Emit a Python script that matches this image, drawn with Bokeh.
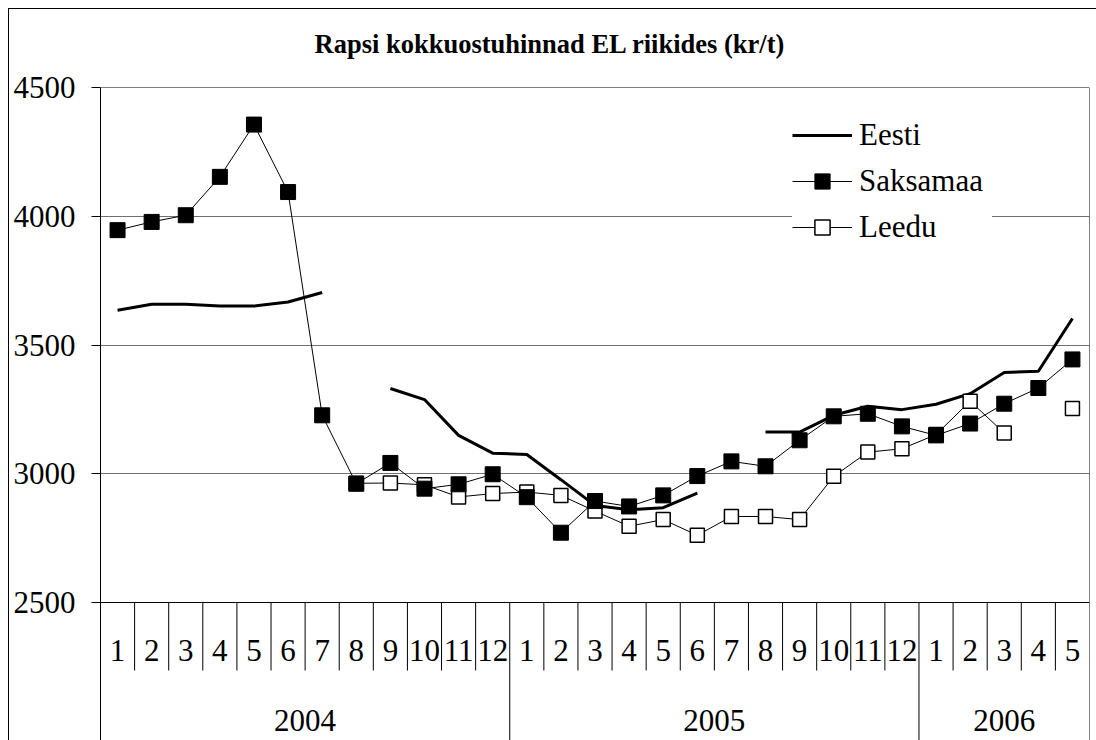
from bokeh.plotting import figure
from bokeh.models import (Range1d, FixedTicker, Span, Title, Legend, LegendItem)
from bokeh.core.properties import value
from bokeh.embed import file_html
from bokeh.resources import INLINE

nan = float("nan")

# ---- data ----
years = ["2004", "2005", "2006"]
year_months = [12, 12, 5]
months = [str(m) for m in range(1, 13)] + [str(m) for m in range(1, 13)] + [str(m) for m in range(1, 6)]

eesti = [3635, 3658, 3658, 3651, 3651, 3667, 3704, nan, 3331, 3288, 3149, 3080,
         3075, 2977, 2877, 2860, 2868, 2925, nan, 3162, 3162, 3227, 3262, 3249,
         3270, 3311, 3393, 3398, 3603]
saksamaa = [3946, 3978, 4004, 4153, 4356, 4094, 3227, 2961, 3042, 2942, 2959, 2998,
            2909, 2771, 2894, 2873, 2916, 2991, 3048, 3029, 3130, 3223, 3233, 3184,
            3149, 3195, 3272, 3333, 3444]
leedu = [nan, nan, nan, nan, nan, nan, nan, 2963, 2964, 2957, 2910, 2923,
         2929, 2916, 2855, 2796, 2822, 2761, 2834, 2834, 2822, 2990, 3084, 3097,
         3152, 3282, 3158, nan, 3253]

y_ticks = [2500, 3000, 3500, 4000, 4500]
grid_ticks = [3000, 3500, 4000]
title_text = "Rapsi kokkuostuhinnad EL riikides (kr/t)"

# ---- layout helpers (canvas pixel -> data) ----
W, H = 1096, 740
TOP, Y_BASE = 87, 602          # canvas y of 4500 and 2500
LEFT, RIGHT = 100, 1089        # canvas x of frame left/right
YMIN, YMAX = 2500, 4500
ppu = (Y_BASE - TOP) / (YMAX - YMIN)
y_lo = YMAX - (H - TOP) / ppu
n = len(months)


def yd(cy):
    return YMAX - (cy - TOP) / ppu


FONT = "Liberation Serif"
FS = "31px"

p = figure(width=W, height=H, output_backend="svg", toolbar_location=None,
           x_range=Range1d(0, n), y_range=Range1d(y_lo, YMAX),
           x_axis_location=None, title=None,
           min_border_left=LEFT, min_border_right=W - RIGHT,
           min_border_top=TOP, min_border_bottom=0)
p.outline_line_color = None
p.background_fill_color = "white"
p.border_fill_color = None
# outer chart border (its left and top edges are the only ones inside the picture)
p.styles = {
    "background": "linear-gradient(#000, #000) 8px 8px / 1px 100% no-repeat, "
                  "linear-gradient(#000, #000) 8px 8px / 100% 1px no-repeat, #fff"
}

# title
p.add_layout(Title(text=title_text, align="left", offset=214, standoff=54,
                   vertical_align="top", text_font=FONT, text_font_size="26.5px",
                   text_font_style="bold", text_color="black"), "above")

# y axis
ax = p.yaxis[0]
ax.ticker = FixedTicker(ticks=y_ticks)
ax.major_tick_in = 0
ax.major_tick_out = 9
ax.minor_tick_line_color = None
ax.axis_line_color = "black"
ax.major_tick_line_color = "black"
ax.major_label_text_font = FONT
ax.major_label_text_font_size = FS
ax.major_label_text_color = "black"
ax.major_label_standoff = 16

p.xgrid.visible = False
p.ygrid.ticker = FixedTicker(ticks=grid_ticks)
p.ygrid.grid_line_color = "#707070"
p.ygrid.grid_line_width = 1

# plot-area borders / category axis line
p.add_layout(Span(location=YMAX, dimension="width", line_color="black", line_width=1))
p.add_layout(Span(location=n, dimension="height", line_color="black", line_width=1))
p.add_layout(Span(location=YMIN, dimension="width", line_color="black", line_width=1))

# category separators
year_bounds = []
acc = 0
for c in year_months[:-1]:
    acc += c
    year_bounds.append(acc)
month_bounds = [i for i in range(1, n) if i not in year_bounds]
p.segment(x0=month_bounds, y0=[YMIN] * len(month_bounds), x1=month_bounds,
          y1=[yd(670)] * len(month_bounds), line_color="black", line_width=1)
p.segment(x0=year_bounds, y0=[YMIN] * len(year_bounds), x1=year_bounds,
          y1=[y_lo] * len(year_bounds), line_color="black", line_width=1)

# month labels
xc = [i + 0.5 for i in range(n)]
p.text(x=xc, y=[yd(650)] * n, text=months, text_font=value(FONT),
       text_font_size=FS, text_align="center", text_baseline="middle",
       text_color="black")

# year labels
yc = []
acc = 0
for c in year_months:
    yc.append(acc + c / 2)
    acc += c
p.text(x=yc, y=[yd(720)] * len(years), text=years, text_font=value(FONT),
       text_font_size=FS, text_align="center", text_baseline="middle",
       text_color="black")

# series
r_e = p.line(xc, eesti, line_color="black", line_width=3)
r_l_line = p.line(xc, leedu, line_color="black", line_width=1)
r_l_pts = p.scatter(xc, leedu, marker="square", size=14, fill_color="white",
                    line_color="black", line_width=1.5)
r_s_line = p.line(xc, saksamaa, line_color="black", line_width=1)
r_s_pts = p.scatter(xc, saksamaa, marker="square", size=15, fill_color="black",
                    line_color="black")

legend = Legend(items=[LegendItem(label="Eesti", renderers=[r_e]),
                       LegendItem(label="Saksamaa", renderers=[r_s_line, r_s_pts]),
                       LegendItem(label="Leedu", renderers=[r_l_line, r_l_pts])],
                location=(792 - LEFT, H - 246),
                label_text_font=FONT, label_text_font_size=FS,
                label_text_color="black", glyph_width=60, glyph_height=38,
                label_standoff=7, label_width=133, spacing=8, padding=0, margin=0,
                background_fill_color="white", background_fill_alpha=1.0,
                border_line_color=None)
p.add_layout(legend)

open("out.html", "w").write(file_html(p, INLINE))
